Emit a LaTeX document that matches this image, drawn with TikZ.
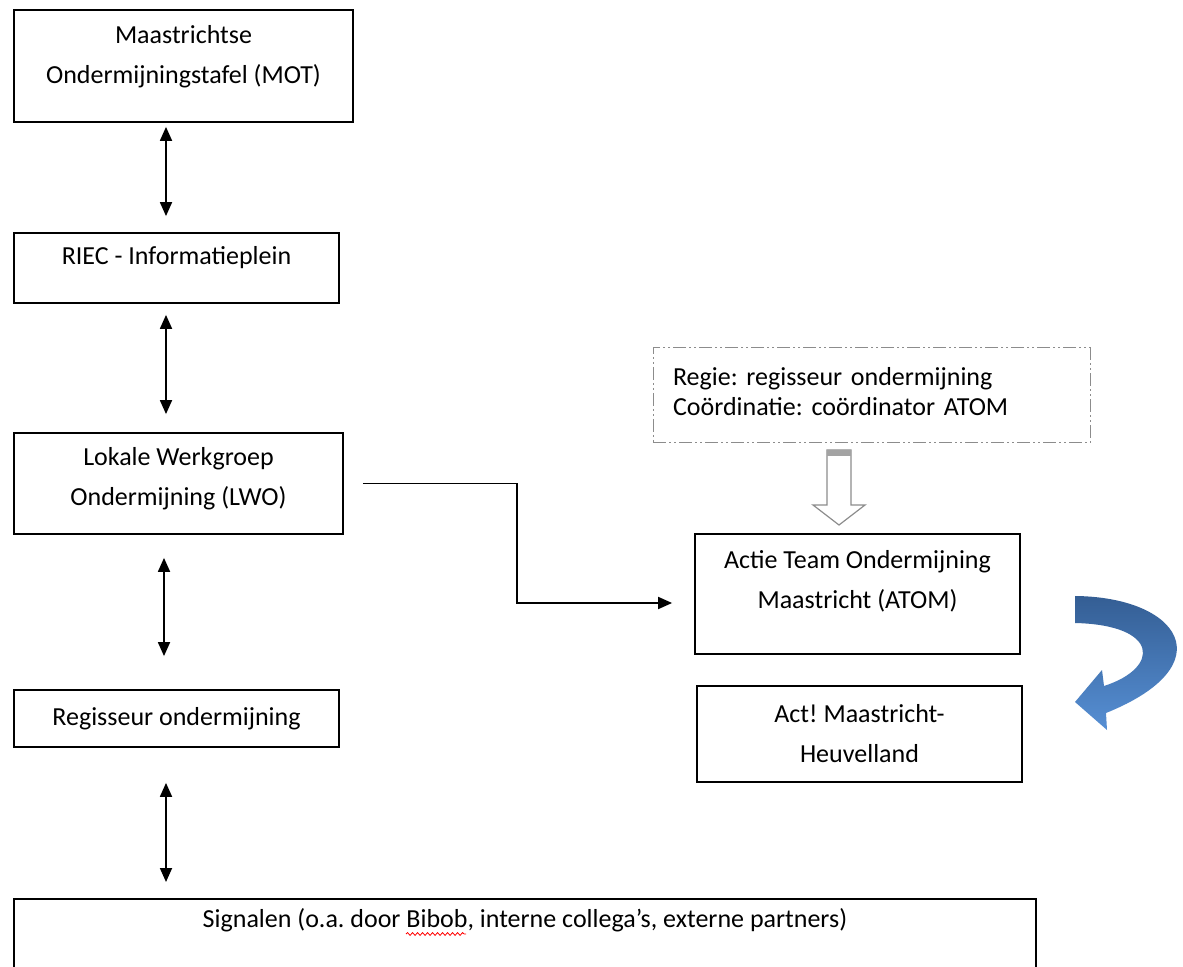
\documentclass[tikz,border=0pt]{standalone}
\usepackage{fontspec}
\setmainfont{Carlito}
\usetikzlibrary{arrows.meta,decorations.pathmorphing}
\definecolor{blauwdonker}{RGB}{52,94,148}
\definecolor{blauwlicht}{RGB}{86,143,212}
\definecolor{grijs}{RGB}{140,140,140}
\frenchspacing

\begin{document}
\begin{tikzpicture}[x=0.5pt,y=-0.5pt,
        >={Triangle[length=7pt,width=6pt]},
        blok/.style={draw, line width=0.9pt, align=center, inner sep=0pt, font=\fontsize{13}{20}\selectfont},
        stippel/.style={draw=grijs, line width=0.5pt, dash pattern=on 6.5pt off 1.5pt on 1pt off 1.5pt on 1pt off 1.5pt,
                        align=left, inner xsep=10pt, inner ysep=0pt, font=\fontsize{13}{15}\selectfont},
        pijl/.style={line width=0.9pt},
        golf/.style={red, line width=0.4pt, decorate, decoration={snake, amplitude=0.7pt, segment length=2.5pt}}]
        \fill[white] (0,0) rectangle (1183,967);
        \useasboundingbox (0,0) rectangle (1183,967);
        \node[blok, minimum width=169.5pt, minimum height=56pt, text depth=12pt] (mot) at (183.5,66) {Maastrichtse\\Ondermijningstafel (MOT)};
        \node[blok, minimum width=162.5pt, minimum height=35pt, text depth=13pt] (riec) at (176.5,268) {RIEC - Informatieplein};
        \node[blok, minimum width=164.5pt, minimum height=50.5pt, text depth=7pt] (lwo) at (178.5,483.5) {Lokale Werkgroep\\Ondermijning (LWO)};
        \node[blok, minimum width=162.5pt, minimum height=28.5pt] (regis) at (176.5,718.5) {Regisseur ondermijning};
        \node[blok, minimum width=511pt, minimum height=50pt, text depth=31pt, anchor=north] (sign) at (525,898) {Signalen (o.a. door Bibob, interne collega’s, externe partners)};
        \node[stippel, text width=198.5pt, minimum height=47.5pt, text depth=19pt] (regie) at (871.5,395.5) {Regie: regisseur ondermijning\\Coördinatie: coördinator ATOM};
        \node[blok, minimum width=162.5pt, minimum height=60pt, text depth=15pt] (atom) at (857.5,594) {Actie Team Ondermijning\\Maastricht (ATOM)};
        \node[blok, minimum width=162.5pt, minimum height=48pt] (act) at (859.5,734) {Act! Maastricht-\\Heuvelland};
        \coordinate (as) at (166,0);
        \coordinate (as2) at (164,0);
        \coordinate (knik) at (517,603);
        \coordinate (hp) at (839,450);
        \draw[pijl, <->, shorten <=2pt, shorten >=8pt] (mot.south -| as) -- (riec.north -| as);
        \draw[pijl, <->, shorten <=5.5pt, shorten >=9pt] (riec.south -| as) -- (lwo.north -| as);
        \draw[pijl, <->, shorten <=11.5pt, shorten >=16.5pt] (lwo.south -| as2) -- (regis.north -| as2);
        \draw[pijl, <->, shorten <=17.5pt, shorten >=8pt] (regis.south -| as) -- (sign.north -| as);
        \draw[pijl, ->, shorten <=9.5pt, shorten >=11pt] (lwo.east) -| (knik) -- (knik -| atom.west);
        \draw[golf] (406,934) -- (466,934);
        \draw[grijs, fill=white, line width=0.6pt] (hp) ++(-12,0) -- ++(0,55) -- ++(-14,0) -- ++(26,20) -- ++(26,-20) -- ++(-14,0) -- ++(0,-55) -- cycle;
        \fill[grijs!80] (hp) ++(-12,0) rectangle ++(24,6);
        \shade[top color=blauwdonker, bottom color=blauwlicht] (1075,596) .. controls (1180,597) and (1225,665) .. (1106,713)
            -- (1107,730) -- (1075,702) -- (1102,670) -- (1104,686) .. controls (1160,668) and (1160,625) .. (1075,623) -- cycle;
\end{tikzpicture}
\end{document}
